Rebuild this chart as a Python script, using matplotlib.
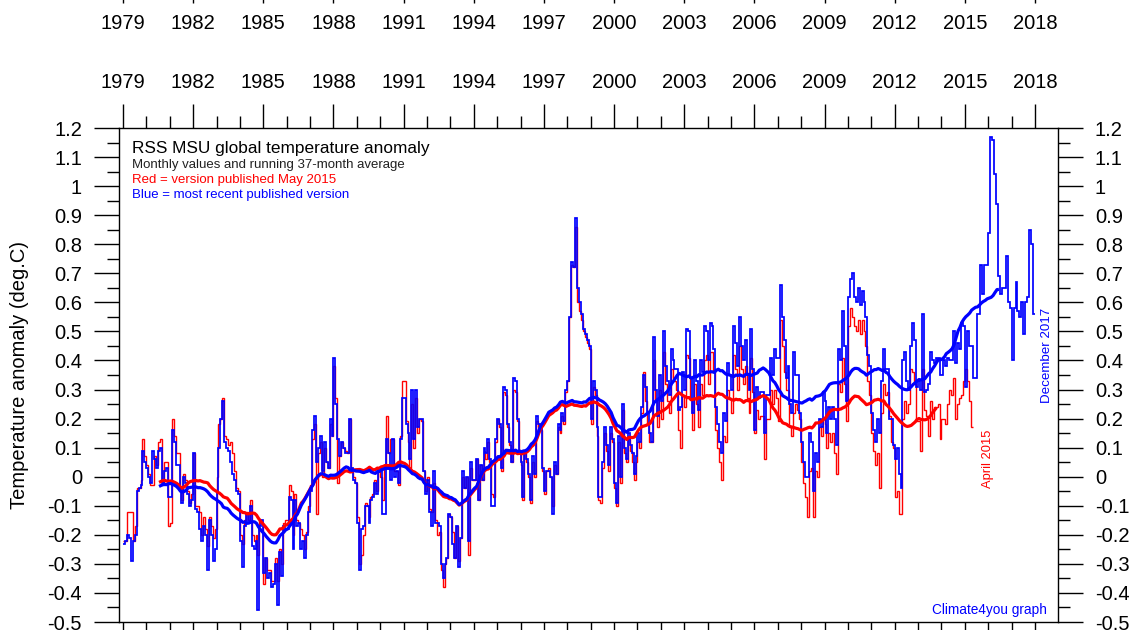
import numpy as np
import matplotlib
matplotlib.use("Agg")
import matplotlib.pyplot as plt
from matplotlib.ticker import FixedLocator, MultipleLocator, FuncFormatter

plt.rcParams['font.family'] = ['Liberation Sans', 'DejaVu Sans']
plt.rcParams['axes.unicode_minus'] = False

START_YEAR = 1979
WINDOW = 37  # months in the running average

# RSS MSU lower-troposphere anomaly, most recent version, Jan 1979 - Dec 2017 (deg C)
rss_recent = [
    -0.23, -0.22, -0.20, -0.21, -0.29, -0.22, -0.20, -0.05, -0.04, -0.03, 0.09, 0.05,   # 1979
    0.03, 0.00, -0.02, 0.09, 0.06, 0.03, 0.09, 0.10, -0.02, 0.02, 0.03, -0.07,          # 1980
    -0.07, 0.16, 0.12, 0.04, 0.04, -0.05, -0.09, 0.00, -0.02, -0.06, -0.10, -0.08,      # 1981
    0.08, -0.11, -0.12, -0.18, -0.22, -0.17, -0.20, -0.32, -0.15, -0.20, -0.29, -0.25,  # 1982
    -0.05, 0.10, 0.20, 0.26, 0.12, 0.10, 0.09, 0.05, 0.01, -0.01, -0.05, -0.06,         # 1983
    -0.22, -0.31, -0.17, -0.13, -0.16, -0.10, -0.24, -0.25, -0.22, -0.46, -0.17, -0.15, # 1984
    -0.33, -0.28, -0.35, -0.33, -0.38, -0.37, -0.30, -0.44, -0.26, -0.34, -0.17, -0.18, # 1985
    -0.18, -0.07, -0.08, -0.25, -0.08, -0.17, -0.16, -0.25, -0.22, -0.28, -0.20, -0.12, # 1986
    -0.05, 0.16, 0.21, 0.05, 0.10, 0.14, 0.02, 0.12, 0.05, 0.03, 0.20, 0.14,            # 1987
    0.41, 0.25, 0.13, 0.07, 0.12, 0.10, 0.08, 0.08, 0.20, 0.03, -0.01, -0.02,           # 1988
    -0.16, -0.32, -0.18, -0.17, -0.10, -0.10, -0.16, -0.08, -0.07, -0.02, -0.06, 0.03,  # 1989
    0.03, -0.13, -0.13, 0.13, 0.08, -0.01, 0.13, 0.00, 0.02, -0.02, 0.13, 0.27,         # 1990
    0.27, 0.18, 0.15, 0.06, 0.30, 0.13, 0.30, 0.17, 0.20, 0.20, 0.02, -0.06,            # 1991
    -0.01, -0.12, -0.17, 0.02, -0.16, -0.16, -0.17, -0.30, -0.35, -0.30, -0.28, -0.13,  # 1992
    -0.14, -0.23, -0.28, -0.17, -0.31, -0.21, 0.02, -0.04, 0.00, -0.22, 0.05, -0.01,    # 1993
    -0.01, 0.06, -0.08, 0.04, -0.01, 0.10, 0.08, 0.13, 0.06, -0.10, -0.10, 0.13,        # 1994
    0.20, 0.18, 0.03, 0.31, 0.30, 0.18, 0.12, 0.05, 0.34, 0.33, 0.20, 0.09,             # 1995
    0.05, -0.07, 0.09, 0.06, 0.01, -0.08, 0.07, 0.01, 0.21, 0.18, 0.17, 0.03,           # 1996
    -0.05, 0.02, 0.02, 0.00, -0.13, 0.05, 0.01, 0.18, 0.16, 0.22, 0.19, 0.30,           # 1997
    0.33, 0.55, 0.74, 0.72, 0.89, 0.65, 0.60, 0.56, 0.51, 0.49, 0.47, 0.45,             # 1998
    0.20, 0.33, 0.30, 0.17, -0.07, -0.07, 0.05, 0.17, 0.11, 0.04, 0.17, 0.13,           # 1999
    -0.02, -0.09, 0.14, 0.00, 0.25, 0.10, 0.06, 0.15, 0.11, 0.08, 0.01, 0.07,           # 2000
    0.15, 0.12, 0.24, 0.35, 0.31, 0.22, 0.15, 0.12, 0.48, 0.30, 0.21, 0.35,             # 2001
    0.26, 0.50, 0.38, 0.33, 0.28, 0.44, 0.40, 0.37, 0.37, 0.23, 0.24, 0.36,             # 2002
    0.30, 0.51, 0.50, 0.34, 0.22, 0.40, 0.33, 0.23, 0.40, 0.36, 0.52, 0.50,             # 2003
    0.40, 0.53, 0.52, 0.44, 0.24, 0.18, 0.12, 0.08, 0.22, 0.19, 0.39, 0.35,             # 2004
    0.30, 0.52, 0.46, 0.38, 0.55, 0.45, 0.40, 0.47, 0.35, 0.30, 0.51, 0.37,             # 2005
    0.16, 0.31, 0.27, 0.29, 0.29, 0.15, 0.28, 0.28, 0.41, 0.35, 0.44, 0.41,             # 2006
    0.41, 0.66, 0.55, 0.47, 0.34, 0.38, 0.25, 0.22, 0.43, 0.35, 0.35, 0.22,             # 2007
    0.12, 0.05, 0.00, 0.00, 0.15, 0.12, -0.05, 0.08, 0.05, 0.20, 0.17, 0.29,            # 2008
    0.26, 0.15, 0.24, 0.20, 0.24, 0.20, 0.11, 0.44, 0.40, 0.57, 0.45, 0.26,             # 2009
    0.62, 0.68, 0.70, 0.62, 0.60, 0.65, 0.59, 0.64, 0.60, 0.55, 0.42, 0.38,             # 2010
    0.22, 0.16, 0.12, 0.20, 0.15, 0.33, 0.44, 0.37, 0.37, 0.20, 0.20, 0.11,             # 2011
    0.06, 0.10, 0.01, -0.04, 0.40, 0.43, 0.33, 0.30, 0.45, 0.53, 0.47, 0.31,            # 2012
    0.33, 0.30, 0.56, 0.29, 0.30, 0.32, 0.43, 0.40, 0.39, 0.41, 0.41, 0.35,             # 2013
    0.35, 0.40, 0.38, 0.41, 0.40, 0.40, 0.50, 0.39, 0.46, 0.44, 0.53, 0.52,             # 2014
    0.31, 0.50, 0.45, 0.45, 0.34, 0.34, 0.56, 0.56, 0.73, 0.63, 0.73, 0.73,             # 2015
    0.84, 1.17, 1.16, 1.04, 0.94, 0.69, 0.63, 0.65, 0.65, 0.76, 0.60, 0.58,             # 2016
    0.40, 0.58, 0.67, 0.57, 0.55, 0.60, 0.49, 0.60, 0.62, 0.85, 0.80, 0.56,             # 2017
]

# Version published May 2015, Jan 1979 - Apr 2015 (deg C)
rss_may2015 = [
    -0.22, -0.22, -0.12, -0.12, -0.12, -0.22, -0.17, -0.04, -0.04, -0.01, 0.13, 0.07,   # 1979
    0.04, 0.01, -0.03, -0.03, 0.07, 0.04, 0.12, 0.13, -0.02, 0.05, 0.05, -0.17,         # 1980
    -0.16, 0.20, 0.14, 0.08, 0.08, -0.04, -0.08, 0.01, -0.01, -0.05, -0.09, -0.06,      # 1981
    0.08, -0.10, -0.10, -0.12, -0.20, -0.14, -0.18, -0.24, -0.14, -0.17, -0.21, -0.18,  # 1982
    0.00, 0.18, 0.20, 0.27, 0.14, 0.13, 0.11, 0.12, 0.08, 0.02, -0.04, -0.05,           # 1983
    -0.20, -0.23, -0.15, -0.12, -0.15, -0.08, -0.20, -0.22, -0.20, -0.27, -0.15, -0.16, # 1984
    -0.37, -0.28, -0.32, -0.32, -0.36, -0.36, -0.28, -0.36, -0.25, -0.30, -0.16, -0.15, # 1985
    -0.15, -0.03, -0.05, -0.20, -0.06, -0.15, -0.16, -0.18, -0.20, -0.25, -0.19, -0.10, # 1986
    -0.03, 0.13, 0.18, -0.13, 0.08, 0.12, 0.00, 0.10, 0.05, 0.03, 0.18, 0.14,           # 1987
    0.38, 0.27, -0.02, 0.07, 0.12, 0.10, 0.09, 0.08, 0.20, 0.03, 0.00, -0.02,           # 1988
    -0.14, -0.30, -0.27, -0.20, -0.09, -0.10, -0.14, -0.07, -0.06, -0.01, -0.05, 0.03,  # 1989
    0.00, -0.08, 0.03, 0.21, 0.08, 0.13, 0.13, 0.02, 0.02, -0.03, 0.14, 0.33,           # 1990
    0.33, 0.19, 0.12, 0.03, 0.25, 0.10, 0.27, 0.15, 0.20, 0.19, 0.02, -0.05,            # 1991
    0.00, -0.11, -0.12, -0.02, -0.15, -0.20, -0.19, -0.32, -0.38, -0.30, -0.28, -0.13,  # 1992
    -0.14, -0.19, -0.28, -0.17, -0.29, -0.21, 0.00, -0.04, 0.00, -0.27, 0.03, -0.01,    # 1993
    -0.01, 0.06, -0.08, 0.04, -0.01, 0.09, 0.06, 0.12, 0.05, -0.06, -0.07, 0.12,        # 1994
    0.20, 0.17, 0.02, 0.29, 0.28, 0.17, 0.11, 0.05, 0.30, 0.29, 0.19, 0.08,             # 1995
    0.04, -0.08, 0.08, 0.05, 0.00, -0.09, 0.05, 0.00, 0.19, 0.17, 0.16, 0.02,           # 1996
    -0.06, 0.02, 0.03, 0.00, -0.10, 0.04, 0.01, 0.17, 0.15, 0.21, 0.18, 0.29,           # 1997
    0.33, 0.55, 0.73, 0.72, 0.86, 0.60, 0.57, 0.54, 0.50, 0.48, 0.46, 0.44,             # 1998
    0.18, 0.31, 0.28, 0.14, -0.08, -0.09, 0.03, 0.15, 0.09, 0.02, 0.15, 0.12,           # 1999
    -0.04, -0.10, 0.12, -0.02, 0.23, 0.08, 0.05, 0.13, 0.09, 0.05, -0.01, 0.05,         # 2000
    0.12, 0.10, 0.22, 0.36, 0.26, 0.18, 0.12, 0.12, 0.40, 0.26, 0.17, 0.30,             # 2001
    0.20, 0.43, 0.32, 0.26, 0.22, 0.37, 0.34, 0.33, 0.30, 0.16, 0.10, 0.28,             # 2002
    0.24, 0.42, 0.41, 0.27, 0.16, 0.32, 0.25, 0.17, 0.32, 0.28, 0.40, 0.42,             # 2003
    0.32, 0.43, 0.43, 0.36, 0.16, 0.10, 0.05, -0.01, 0.14, 0.12, 0.30, 0.27,            # 2004
    0.22, 0.42, 0.37, 0.30, 0.45, 0.37, 0.32, 0.38, 0.27, 0.22, 0.41, 0.29,             # 2005
    0.15, 0.23, 0.20, 0.21, 0.21, 0.06, 0.20, 0.20, 0.30, 0.25, 0.30, 0.27,             # 2006
    0.19, 0.54, 0.45, 0.36, 0.30, 0.30, 0.17, 0.14, 0.22, 0.25, 0.23, 0.20,             # 2007
    0.05, -0.02, -0.07, -0.14, 0.02, 0.03, -0.14, 0.02, 0.00, 0.17, 0.14, 0.20,         # 2008
    0.18, 0.10, 0.15, 0.12, 0.15, 0.08, 0.01, 0.32, 0.29, 0.41, 0.32, 0.19,             # 2009
    0.52, 0.58, 0.55, 0.52, 0.50, 0.54, 0.49, 0.54, 0.50, 0.45, 0.33, 0.28,             # 2010
    0.15, 0.09, 0.04, 0.08, -0.04, 0.22, 0.32, 0.28, 0.29, 0.21, 0.12, 0.10,            # 2011
    -0.07, -0.05, -0.13, -0.13, 0.20, 0.26, 0.22, 0.25, 0.37, 0.36, 0.32, 0.19,         # 2012
    0.19, 0.09, 0.37, 0.23, 0.21, 0.14, 0.26, 0.20, 0.24, 0.24, 0.25, 0.13,             # 2013
    0.20, 0.20, 0.18, 0.25, 0.30, 0.28, 0.34, 0.20, 0.25, 0.27, 0.28, 0.33,             # 2014
    0.37, 0.33, 0.26, 0.17,                                                             # 2015
]

year_ticks = list(range(1979, 2019, 3))
y_ticks = [round(-0.5 + 0.1 * i, 1) for i in range(18)]

title_lines = [
    ("RSS MSU global temperature anomaly", "black", 12.4),
    ("Monthly values and running 37-month average", "#202020", 9.5),
    ("Red = version published May 2015", "#ff0000", 9.5),
    ("Blue = most recent published version", "#0000ff", 9.5),
]

RED = "#ff0000"
BLUE = "#0000ff"

W_PX, H_PX = 1144, 630
fig = plt.figure(figsize=(W_PX / 100, H_PX / 100), dpi=100)
L, R, T, B = 119, 1058, 128, 622
ax = fig.add_axes([L / W_PX, 1 - B / H_PX, (R - L) / W_PX, (B - T) / H_PX])

x_lo, x_hi = 1978.829, 2018.984
ax.set_xlim(x_lo, x_hi)
ax.set_ylim(-0.5, 1.2)


def month_edges(n):
    return START_YEAR + np.arange(n + 1) / 12.0


def running_mean(vals, window):
    v = np.asarray(vals, dtype=float)
    avg = np.convolve(v, np.ones(window) / window, mode="valid")
    half = window // 2
    x = START_YEAR + (np.arange(len(avg)) + half + 0.5) / 12.0
    return x, avg


# monthly values as stepped lines; the recent version is drawn on top
ax.stairs(rss_may2015, month_edges(len(rss_may2015)), baseline=None,
          color=RED, lw=1.0, zorder=2)
ax.stairs(rss_recent, month_edges(len(rss_recent)), baseline=None,
          color=BLUE, lw=1.25, zorder=3)

# 37-month running averages
xr, ar = running_mean(rss_may2015, WINDOW)
xb, ab = running_mean(rss_recent, WINDOW)
ax.plot(xr, ar, color=RED, lw=2.3, zorder=4, solid_capstyle="butt")
ax.plot(xb, ab, color=BLUE, lw=2.3, zorder=5, solid_capstyle="butt")

# frame and ticks
for sp in ax.spines.values():
    sp.set_linewidth(1.0)
    sp.set_color("black")

PX = 72 / 100  # points per pixel
ax.xaxis.set_major_locator(FixedLocator(year_ticks))
ax.xaxis.set_minor_locator(MultipleLocator(1))
ax.xaxis.set_major_formatter(FuncFormatter(lambda v, p: f"{int(round(v))}"))
ax.tick_params(axis="x", which="both", top=True, bottom=True, labeltop=True,
               labelbottom=False, direction="out", width=1.0, color="black")
ax.tick_params(axis="x", which="major", length=24 * PX, labelsize=14.5, pad=12 * PX)
ax.tick_params(axis="x", which="minor", length=12 * PX)


def y_label(v, p):
    if abs(v) < 1e-9:
        return "0"
    return f"{round(v, 1):g}"


ax.yaxis.set_major_locator(FixedLocator(y_ticks))
ax.yaxis.set_minor_locator(MultipleLocator(0.05))
ax.yaxis.set_major_formatter(FuncFormatter(y_label))
ax.tick_params(axis="y", which="both", left=True, right=True, labelleft=True,
               labelright=True, direction="out", width=1.0, color="black")
ax.tick_params(axis="y", which="major", length=25 * PX, labelsize=14.5, pad=12 * PX)
ax.tick_params(axis="y", which="minor", length=12 * PX)

ax.set_ylabel("Temperature anomaly (deg.C)", fontsize=14.5)
ax.yaxis.set_label_coords((29 - L) / (R - L), 0.5)

# repeated year scale along the top edge of the canvas
strip = fig.add_axes([L / W_PX, 1 + 21 / H_PX, (R - L) / W_PX, 0.02])
strip.set_xlim(x_lo, x_hi)
strip.patch.set_visible(False)
for sp in strip.spines.values():
    sp.set_visible(False)
strip.set_yticks([])
strip.xaxis.set_major_locator(FixedLocator(year_ticks))
strip.xaxis.set_major_formatter(FuncFormatter(lambda v, p: f"{int(round(v))}"))
strip.tick_params(axis="x", which="major", bottom=True, direction="out",
                  length=24 * PX, width=1.0, labelsize=14.5, pad=11 * PX)

# annotation block
baselines = [152.7, 167.7, 183.3, 198.3]
for (txt, col, fs), yb in zip(title_lines, baselines):
    ax.text((132 - L) / (R - L), (B - yb) / (B - T), txt, color=col, fontsize=fs,
            transform=ax.transAxes, ha="left", va="baseline")

ax.text((991 - L) / (R - L), (B - 459) / (B - T), "April 2015", color=RED,
        fontsize=9.3, rotation=90, rotation_mode="anchor", ha="center",
        va="baseline", transform=ax.transAxes)
ax.text((1050 - L) / (R - L), (B - 355.5) / (B - T), "December 2017", color=BLUE,
        fontsize=9.6, rotation=90, rotation_mode="anchor", ha="center",
        va="baseline", transform=ax.transAxes)
ax.text((932 - L) / (R - L), (B - 614) / (B - T), "Climate4you graph", color=BLUE,
        fontsize=9.8, ha="left", va="baseline", transform=ax.transAxes)

fig.savefig("out.png", dpi=100)
